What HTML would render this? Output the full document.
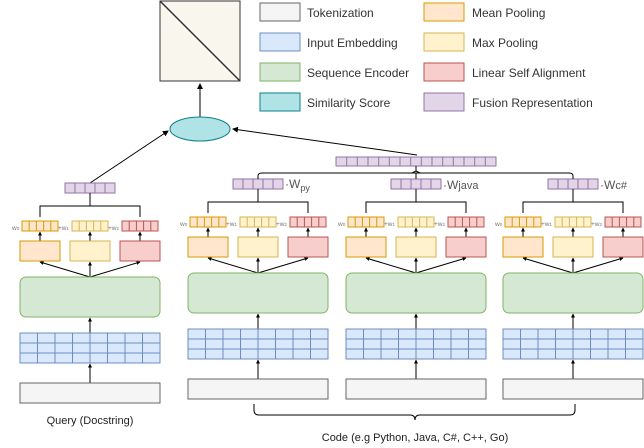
<!DOCTYPE html>
<html><head><style>body{margin:0;background:#fff}svg{display:block}text{font-family:"Liberation Sans",Arial,sans-serif}</style></head><body>
<svg width="644" height="448" viewBox="0 0 644 448" xmlns="http://www.w3.org/2000/svg" font-family="Liberation Sans, Arial, sans-serif">
<defs>
<marker id="a" markerWidth="6" markerHeight="6" refX="5" refY="3" orient="auto" markerUnits="userSpaceOnUse"><path d="M0,0 L6,3 L0,6 Z" fill="#000"/></marker>
<marker id="s" markerWidth="4" markerHeight="4" refX="3.5" refY="2" orient="auto" markerUnits="userSpaceOnUse"><path d="M0,0 L4,2 L0,4 Z" fill="#000"/></marker>
<g id="v5o"><rect width="36" height="10" fill="#ffe6cc" stroke="#d79b00"/><path d="M7.2,0v10M14.4,0v10M21.6,0v10M28.8,0v10" stroke="#d79b00"/></g>
<g id="v5y"><rect width="36" height="10" fill="#fff2cc" stroke="#d6b656"/><path d="M7.2,0v10M14.4,0v10M21.6,0v10M28.8,0v10" stroke="#d6b656"/></g>
<g id="v5r"><rect width="36" height="10" fill="#f8cecc" stroke="#b85450"/><path d="M7.2,0v10M14.4,0v10M21.6,0v10M28.8,0v10" stroke="#b85450"/></g>
<g id="col">
<rect x="45" y="179" width="50" height="10" fill="#e1d5e7" stroke="#9673a6"/>
<path d="M55,179v10M65,179v10M75,179v10M85,179v10" stroke="#9673a6"/>
<path d="M70,189V202M20,213V202H120V213" fill="none" stroke="#000"/>
<use href="#v5o" x="2" y="217"/><use href="#v5y" x="52" y="217"/><use href="#v5r" x="102" y="217"/>
<g stroke="#000" marker-end="url(#s)"><path d="M20,237V228"/><path d="M70,237V228"/><path d="M120,237V228"/></g>
<rect x="0" y="237" width="40" height="20" fill="#ffe6cc" stroke="#d79b00"/>
<rect x="50" y="237" width="40" height="20" fill="#fff2cc" stroke="#d6b656"/>
<rect x="100" y="237" width="40" height="20" fill="#f8cecc" stroke="#b85450"/>
<g stroke="#000" marker-end="url(#s)"><path d="M70,273L20,258"/><path d="M70,273V258"/><path d="M70,273L120,258"/><path d="M70,329V314"/><path d="M70,379V360"/></g>
<rect x="0" y="273" width="140" height="40" rx="6" fill="#d5e8d4" stroke="#82b366"/>
<rect x="0" y="329" width="140" height="30" fill="#dae8fc" stroke="#6c8ebf"/>
<path d="M17.5,329v30M35,329v30M52.5,329v30M70,329v30M87.5,329v30M105,329v30M122.5,329v30M0,339h140M0,349h140" stroke="#6c8ebf"/>
<rect x="0" y="379" width="140" height="20" fill="#f5f5f5" stroke="#666"/>
<g font-size="6.5" fill="#777"><text x="-8" y="226">w<tspan font-size="4.5">0</tspan></text><text x="38" y="226">+w<tspan font-size="4.5">1</tspan></text><text x="88" y="226">+w<tspan font-size="4.5">2</tspan></text></g>
</g>
</defs>
<g font-size="12" fill="#333">
<rect x="260" y="3" width="40" height="18" fill="#f5f5f5" stroke="#666"/><text x="307" y="17">Tokenization</text>
<rect x="260" y="33" width="40" height="18" fill="#dae8fc" stroke="#6c8ebf"/><text x="307" y="47">Input Embedding</text>
<rect x="260" y="63" width="40" height="18" fill="#d5e8d4" stroke="#82b366"/><text x="307" y="77">Sequence Encoder</text>
<rect x="260" y="93" width="40" height="18" fill="#b0e3e6" stroke="#0e8088"/><text x="307" y="107">Similarity Score</text>
<rect x="424" y="3" width="40" height="18" fill="#ffe6cc" stroke="#d79b00"/><text x="472" y="17">Mean Pooling</text>
<rect x="424" y="33" width="40" height="18" fill="#fff2cc" stroke="#d6b656"/><text x="472" y="47">Max Pooling</text>
<rect x="424" y="63" width="40" height="18" fill="#f8cecc" stroke="#b85450"/><text x="472" y="77">Linear Self Alignment</text>
<rect x="424" y="93" width="40" height="18" fill="#e1d5e7" stroke="#9673a6"/><text x="472" y="107">Fusion Representation</text>
</g>
<rect x="160" y="1" width="80" height="80" fill="#f9f7ed" stroke="#333"/>
<path d="M160,1L240,81" stroke="#333" stroke-width="1.5"/>
<path d="M200,117V84" stroke="#000" marker-end="url(#a)"/>
<ellipse cx="200" cy="129" rx="30" ry="12" fill="#b0e3e6" stroke="#0e8088"/>
<path d="M90,183L168,131" stroke="#000" marker-end="url(#a)"/>
<path d="M417,155L233,129" stroke="#000" marker-end="url(#a)"/>
<use href="#col" x="20" y="4"/>
<use href="#col" x="188" y="0"/>
<use href="#col" x="346" y="0"/>
<use href="#col" x="503" y="0"/>
<rect x="336" y="157" width="160" height="9" fill="#e1d5e7" stroke="#9673a6"/>
<path d="M346.7,157v9M357.3,157v9M368,157v9M378.7,157v9M389.3,157v9M400,157v9M410.7,157v9M421.3,157v9M432,157v9M442.7,157v9M453.3,157v9M464,157v9M474.7,157v9M485.3,157v9" stroke="#9673a6"/>
<path d="M258,179V176Q258,173 262,173H569Q573,173 573,176V179" fill="none" stroke="#000"/>
<path d="M416,166V171L412,173M416,171L420,173M416,173V179" fill="none" stroke="#000"/>
<g font-size="12" fill="#555">
<text x="285" y="188">·W<tspan font-size="9" dy="3">py</tspan></text>
<text x="443" y="189">·W<tspan font-size="11">java</tspan></text>
<text x="600" y="189">·W<tspan font-size="11">c#</tspan></text>
</g>
<text x="90" y="424" font-size="11" fill="#222" text-anchor="middle">Query (Docstring)</text>
<path d="M254,404V410Q254,415 259,415H410Q415,415 415,420Q415,415 420,415H570Q575,415 575,410V404" fill="none" stroke="#000"/>
<text x="415" y="441" font-size="11" fill="#222" text-anchor="middle">Code (e.g Python, Java, C#, C++, Go)</text>
</svg>
</body></html>
